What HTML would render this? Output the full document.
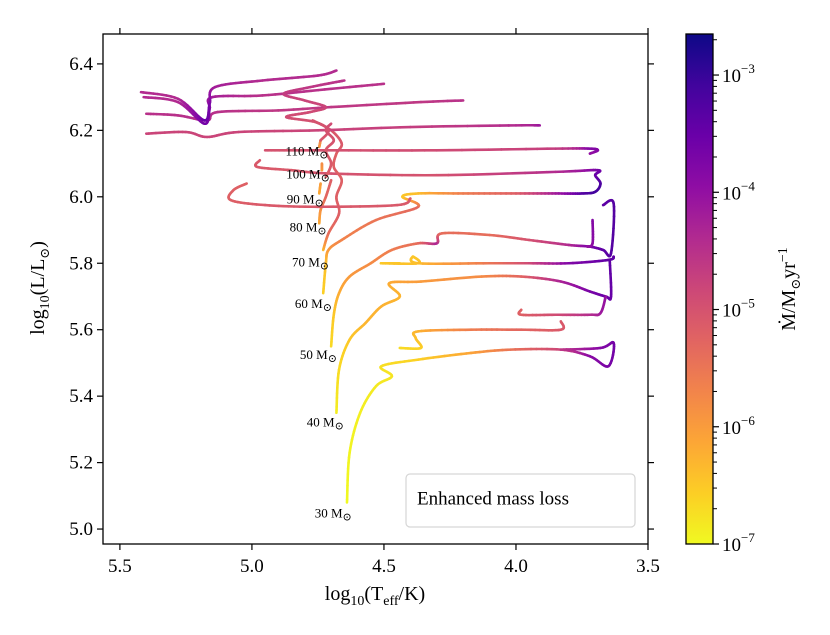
<!DOCTYPE html>
<html><head><meta charset="utf-8"><style>
body{margin:0;background:#fff;}
svg{display:block;font-family:"Liberation Serif","DejaVu Serif",serif;}
</style></head><body>
<svg id="chart" width="830" height="635" viewBox="0 0 830 635" xmlns="http://www.w3.org/2000/svg">
<defs>
<linearGradient id="cbgrad" x1="0" y1="1" x2="0" y2="0">
<stop offset="0" stop-color="#f0f921"/><stop offset="0.1" stop-color="#fcce25"/><stop offset="0.2" stop-color="#fca636"/><stop offset="0.3" stop-color="#f2844b"/><stop offset="0.4" stop-color="#e16462"/><stop offset="0.5" stop-color="#cc4778"/><stop offset="0.6" stop-color="#b12a90"/><stop offset="0.7" stop-color="#8f0da4"/><stop offset="0.8" stop-color="#6a00a8"/><stop offset="0.9" stop-color="#41049d"/><stop offset="1" stop-color="#0d0887"/>
</linearGradient>
<clipPath id="plotclip"><rect x="103" y="34" width="545" height="510"/></clipPath>
</defs>
<g id="tracks" clip-path="url(#plotclip)"></g>
<rect x="103" y="34" width="545" height="510" fill="none" stroke="#000" stroke-width="1.3"/>
<g id="axes"></g>
<g id="labels"></g>
<g>
<rect x="406" y="474" width="229" height="53" rx="4" fill="#fff" stroke="#d6d6d6" stroke-width="1.2"/>
<text x="417" y="500" font-size="19" dominant-baseline="middle">Enhanced mass loss</text>
</g>
<text x="375" y="600" font-size="20" text-anchor="middle">log<tspan font-size="14" dy="5">10</tspan><tspan dy="-5">(T</tspan><tspan font-size="14" dy="5">eff</tspan><tspan dy="-5">/K)</tspan></text>
<text transform="translate(44,288) rotate(-90)" font-size="20" text-anchor="middle">log<tspan font-size="14" dy="5">10</tspan><tspan dy="-5">(L/L</tspan><tspan font-size="13" dy="5">⊙</tspan><tspan dy="-5">)</tspan></text>
<rect x="686" y="34" width="27" height="510" fill="url(#cbgrad)" stroke="#000" stroke-width="1.3"/>
<g id="cbticks"></g>
<text transform="translate(795,289) rotate(-90)" font-size="20" text-anchor="middle">Ṁ/M<tspan font-size="13" dy="5">⊙</tspan><tspan dy="-5">yr</tspan><tspan font-size="14" dy="-8">−1</tspan></text>
</svg>
<script>
const xTicks=[5.5,5.0,4.5,4.0,3.5];
const xTickLabels=["5.5","5.0","4.5","4.0","3.5"];
const yTicks=[5.0,5.2,5.4,5.6,5.8,6.0,6.2,6.4];
const yTickLabels=["5.0","5.2","5.4","5.6","5.8","6.0","6.2","6.4"];
const cbDecades=[-7,-6,-5,-4,-3];
const massNames=["110","100","90","80","70","60","50","40","30"];
const massLabelT=[4.71,4.705,4.728,4.717,4.708,4.697,4.678,4.652,4.622];
const massLabelL=[6.125,6.055,5.98,5.895,5.79,5.665,5.512,5.308,5.035];
// tracks: [logTeff, logL, log Mdot]
const track30=[[4.64,5.08,-7],[4.63,5.23,-6.95],[4.59,5.35,-6.9],[4.53,5.43,-6.85],[4.47,5.46,-6.8],[4.51,5.49,-6.75],[4.37,5.51,-6.6],[4.17,5.53,-6.1],[4.02,5.54,-5.5],[3.83,5.54,-4.8],[3.72,5.52,-3.9],[3.65,5.49,-3.7],[3.63,5.56,-3.6],[3.68,5.545,-3.8],[3.83,5.54,-4.6]];
const track30loop=[[4.44,5.545,-6.7],[4.36,5.545,-6.6],[4.38,5.575,-6.4],[4.37,5.595,-6.3],[4.17,5.60,-5.6],[3.98,5.60,-5.3],[3.83,5.60,-5.1],[3.83,5.625,-5.1]];
const track40=[[4.68,5.35,-6.9],[4.67,5.48,-6.7],[4.63,5.57,-6.5],[4.57,5.62,-6.3],[4.51,5.67,-6.25],[4.44,5.70,-6.3],[4.48,5.74,-6.2],[4.36,5.745,-6.0],[4.13,5.76,-5.8],[3.98,5.76,-5.3],[3.83,5.745,-4.3],[3.72,5.715,-3.7],[3.66,5.70,-3.5],[3.64,5.70,-3.5],[3.645,5.81,-3.4]];
const track40hook=[[3.66,5.70,-4.0],[3.68,5.65,-4.1],[3.72,5.645,-4.4],[3.85,5.645,-4.9],[3.98,5.645,-5.2],[3.98,5.66,-5.2]];
const track50=[[4.70,5.55,-6.7],[4.69,5.645,-6.5],[4.67,5.71,-6.2],[4.63,5.76,-6.0],[4.55,5.80,-5.8],[4.47,5.84,-5.6],[4.37,5.86,-5.4],[4.30,5.86,-4.3],[4.28,5.89,-5.4],[4.10,5.885,-5.4],[3.95,5.87,-5.0],[3.80,5.855,-4.4],[3.72,5.85,-3.7],[3.67,5.84,-3.4],[3.64,5.83,-3.3],[3.63,5.98,-3.3],[3.67,5.975,-3.4]];
const track50b=[[4.44,5.80,-6.6],[4.51,5.80,-6.5],[4.37,5.80,-6.4],[4.39,5.82,-6.5],[4.37,5.80,-6.4],[4.10,5.80,-5.5],[3.95,5.80,-4.9],[3.80,5.80,-3.8],[3.65,5.81,-3.4],[3.63,5.82,-3.4]];
const track60=[[4.73,5.71,-6.6],[4.72,5.80,-6.4],[4.71,5.84,-6.0],[4.66,5.87,-5.7],[4.53,5.93,-5.5],[4.37,5.97,-5.3],[4.43,6.0,-6.5],[4.37,6.01,-6.4],[4.20,6.01,-5.6],[4.00,6.01,-5.2],[3.85,6.01,-4.2],[3.75,6.01,-3.3],[3.70,6.015,-3.1],[3.68,6.04,-3.2],[3.70,6.065,-3.5],[3.69,6.08,-3.6],[3.85,6.075,-4.4],[4.30,6.065,-5.0],[4.70,6.07,-5.0],[4.85,6.08,-5.1],[4.98,6.09,-5.1],[4.97,6.11,-5.1]];
const track60hook=[[3.71,5.93,-3.8],[3.71,5.86,-3.9],[3.73,5.85,-4.0]];
const track70=[[4.73,5.84,-6.4],[4.71,5.89,-5.4],[4.67,5.95,-5.2],[4.68,6.0,-5.2],[4.66,6.05,-5.2],[4.69,6.09,-5.2],[4.68,6.13,-5.2],[4.66,6.16,-5.1],[4.70,6.20,-5.1],[4.77,6.23,-5.0]];
const track80=[[4.745,5.92,-6.2],[4.74,5.96,-5.9],[4.72,6.00,-5.3],[4.70,6.05,-5.2]];
const track80loop=[[5.02,6.04,-5.2],[5.07,6.02,-5.2],[5.08,5.99,-5.2],[4.95,5.975,-5.1],[4.75,5.97,-5.1],[4.45,5.975,-5.1],[4.40,5.995,-5.1]];
const track90=[[4.745,6.01,-6.2],[4.74,6.04,-6.0]];
const track90b=[[4.95,6.14,-5.0],[4.75,6.14,-5.0],[4.30,6.14,-4.9],[3.85,6.145,-4.7],[3.72,6.145,-3.8],[3.69,6.14,-3.8],[3.72,6.13,-4.0]];
const track100=[[4.735,6.08,-6.0],[4.735,6.10,-5.8]];
const track100b=[[5.40,6.19,-4.8],[5.25,6.195,-4.8],[5.17,6.18,-4.8],[5.05,6.195,-4.8],[4.75,6.20,-4.8],[4.40,6.21,-4.7],[4.00,6.215,-4.4],[3.91,6.215,-4.1]];
const track110=[[4.745,6.15,-6.0],[4.74,6.17,-5.7]];
const track110b=[[5.40,6.25,-4.5],[5.28,6.245,-4.5],[5.17,6.23,-4.4],[5.13,6.255,-4.5],[4.90,6.26,-4.6],[4.70,6.27,-4.6],[4.36,6.285,-4.6],[4.20,6.29,-4.5]];
const track120=[[5.41,6.30,-4.4],[5.28,6.285,-4.4],[5.18,6.22,-3.6],[5.16,6.265,-3.8],[5.15,6.30,-4.2],[4.96,6.305,-4.5],[4.70,6.325,-4.5],[4.50,6.34,-4.5]];
const track130=[[5.42,6.315,-4.4],[5.28,6.295,-4.4],[5.18,6.23,-3.5],[5.16,6.28,-3.7],[5.14,6.33,-4.2],[4.96,6.35,-4.4],[4.75,6.365,-4.4],[4.68,6.38,-4.4]];
const wiggleA=[[4.74,6.17,-5.1],[4.71,6.20,-5.0],[4.76,6.225,-5.0],[4.87,6.24,-4.9],[4.78,6.255,-4.9],[4.72,6.27,-4.8],[4.80,6.29,-4.8],[4.88,6.31,-4.7],[4.78,6.33,-4.6],[4.65,6.35,-4.5]];
const wiggleB=[[4.72,6.06,-5.2],[4.70,6.10,-5.1],[4.72,6.14,-5.1],[4.69,6.17,-5.0],[4.72,6.20,-5.0],[4.70,6.22,-4.9]];
const allTracks=[track30,track30loop,track40,track40hook,track50,track50b,track60,track60hook,track70,track80,track80loop,track90,track90b,track100,track100b,track110,track110b,track120,track130,wiggleA,wiggleB];

const NS="http://www.w3.org/2000/svg";
const X0=103,X1=648,Y0=34,Y1=544,TMAX=5.564,TMIN=3.5,LMIN=4.955,LMAX=6.490;
const MMIN=-7,MMAX=-2.65;
function xs(t){return X0+(TMAX-t)/(TMAX-TMIN)*(X1-X0);}
function ys(l){return Y1-(l-LMIN)/(LMAX-LMIN)*(Y1-Y0);}
function cs(m){return Y1-(m-MMIN)/(MMAX-MMIN)*(Y1-Y0);}
const stops=[[13,8,135],[65,4,157],[106,0,168],[143,13,164],[177,42,144],[204,71,120],[225,100,98],[242,132,75],[252,166,54],[252,206,37],[240,249,33]];
function plasma(v){let t=1-(v-MMIN)/(MMAX-MMIN);t=Math.max(0,Math.min(1,t))*10;const i=Math.min(9,Math.floor(t)),f=t-i;const a=stops[i],b=stops[i+1];return "rgb("+a.map((c,k)=>Math.round(c+(b[k]-c)*f)).join(",")+")";}
function mk(tag,attrs,parent){const e=document.createElementNS(NS,tag);for(const k in attrs)e.setAttribute(k,attrs[k]);parent.appendChild(e);return e;}
function cr(p0,p1,p2,p3,t){const t2=t*t,t3=t2*t;return 0.5*((2*p1)+(-p0+p2)*t+(2*p0-5*p1+4*p2-p3)*t2+(-p0+3*p1-3*p2+p3)*t3);}

const tg=document.getElementById('tracks');
allTracks.forEach(function(tr){
  const P=tr.map(p=>[xs(p[0]),ys(p[1]),p[2]]);
  const n=10;
  for(let i=0;i<P.length-1;i++){
    const p0=P[Math.max(0,i-1)],p1=P[i],p2=P[i+1],p3=P[Math.min(P.length-1,i+2)];
    let px=p1[0],py=p1[1];
    for(let j=1;j<=n;j++){
      const f=j/n;
      const nx=cr(p0[0],p1[0],p2[0],p3[0],f),ny=cr(p0[1],p1[1],p2[1],p3[1],f);
      const mm=p1[2]+(p2[2]-p1[2])*(f-0.5/n);
      const seg=mk('line',{x1:px,y1:py,x2:nx,y2:ny,stroke:plasma(mm),'stroke-width':2.6,'stroke-linecap':'round'},tg);
      
      
      px=nx;py=ny;
    }
  }
});

const ax=document.getElementById('axes');
xTicks.forEach(function(t,i){
  const x=xs(t);
  const tk=mk('line',{x1:x,y1:Y1,x2:x,y2:Y1+6,stroke:'#000','stroke-width':1.2},ax);
  
  
  const tk2=mk('line',{x1:x,y1:Y0,x2:x,y2:Y0-6,stroke:'#000','stroke-width':1.2},ax);
  
  
  const lb=mk('text',{x:x,y:Y1+28,'font-size':19,'text-anchor':'middle'},ax);
  lb.textContent=xTickLabels[i];
  
  
});
yTicks.forEach(function(l,i){
  const y=ys(l);
  const tk=mk('line',{x1:X0,y1:y,x2:X0-6,y2:y,stroke:'#000','stroke-width':1.2},ax);
  
  
  const tk2=mk('line',{x1:X1,y1:y,x2:X1+6,y2:y,stroke:'#000','stroke-width':1.2},ax);
  
  
  const lb=mk('text',{x:X0-10,y:y+6,'font-size':19,'text-anchor':'end'},ax);
  lb.textContent=yTickLabels[i];
  
  
});

const cb=document.getElementById('cbticks');
cbDecades.forEach(function(d){
  const y=cs(d);
  const tk=mk('line',{x1:713,y1:y,x2:719,y2:y,stroke:'#000','stroke-width':1.2},cb);
  
  
  const lb=mk('text',{x:722,y:y+7,'font-size':19},cb);
  lb.innerHTML='10<tspan font-size="13" dy="-9">−'+(-d)+'</tspan>';
  
  
  for(let k=2;k<=9;k++){
    const m=d+Math.log10(k);
    if(m>MMAX)break;
    const my=cs(m);
    const mt=mk('line',{x1:713,y1:my,x2:717,y2:my,stroke:'#000','stroke-width':1},cb);
    
    
  }
});

const lg=document.getElementById('labels');
massNames.forEach(function(nm,i){
  const t=mk('text',{x:xs(massLabelT[i]),y:ys(massLabelL[i]),'font-size':13,'text-anchor':'end'},lg);
  t.innerHTML=nm+' M<tspan font-size="11" dy="3">⊙</tspan>';
  
  
});
</script>
</body></html>
